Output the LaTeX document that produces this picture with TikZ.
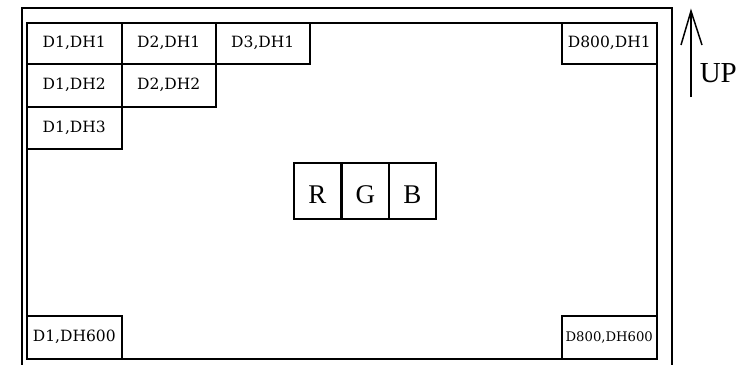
\documentclass[tikz,border=0pt]{standalone}
\usepackage{fontspec}
\newfontfamily\labfont{DejaVu Serif}
\newfontfamily\bigserif{Liberation Serif}
\begin{document}
\begin{tikzpicture}[x=1pt,y=-1pt,line width=1.5pt,
  cell/.style={draw,rectangle,inner sep=0pt,anchor=north west,
    minimum height=41pt,font=\labfont\fontsize{15.5}{18}\selectfont},
  rgbbox/.style={draw,rectangle,inner sep=0pt,anchor=north west,
    minimum width=47pt,minimum height=56pt},
  bigtext/.style={inner sep=0pt,font=\bigserif\fontsize{27}{30}\selectfont}]
\useasboundingbox (0,0) rectangle (741,364);
\begin{scope}
  \clip (0,0) rectangle (741,364);
  \draw (22,8) rectangle (672,380);
\end{scope}
\node[draw,rectangle,inner sep=0pt,anchor=north west,minimum width=630pt,minimum height=336pt] (frame) at (26,22) {};
% cells
\node[cell,minimum width=95pt] (c11) at (26,22) {D1,DH1};
\node[cell,minimum width=94pt] (c21) at (121,22) {D2,DH1};
\node[cell,minimum width=94pt] (c31) at (215,22) {\raisebox{2pt}{D3,DH1}};
\node[cell,minimum width=95pt,minimum height=43pt] (c12) at (26,63) {D1,DH2};
\node[cell,minimum width=94pt,minimum height=43pt] (c22) at (121,63) {\raisebox{2pt}{D2,DH2}};
\node[cell,minimum width=95pt,minimum height=42pt] (c13) at (26,106) {D1,DH3};
\node[cell,minimum width=95pt] (c8001) at (561,22) {D800,DH1};
\node[cell,minimum width=95pt,minimum height=43pt] (c1600) at (26,315) {\raisebox{-3pt}{D1,DH600}};
\node[cell,minimum width=95pt,minimum height=43pt,font=\labfont\fontsize{13.2}{16}\selectfont] (c800600) at (561,315) {\raisebox{-2pt}{D800,DH600}};
% RGB
\node[rgbbox] (rb) at (293,162) {};
\node[rgbbox] (gb) at (341,162) {};
\node[rgbbox] (bb) at (388,162) {};
\node[bigtext] (rt) at ([yshift=-4pt]rb.center) {R};
\node[bigtext] (gt) at ([yshift=-4pt]gb.center) {G};
\node[bigtext] (bt) at ([yshift=-4pt]bb.center) {B};
% UP arrow
\coordinate (tail) at (691,97);
\coordinate (tip) at (691,11);
\coordinate (wl) at (681,45);
\coordinate (wr) at (702,45);
\draw (tail) -- (tip);
\draw[line join=miter] (wl) -- (tip) -- (wr);
\node[bigtext,anchor=base west,font=\bigserif\fontsize{29}{32}\selectfont] (up) at (699,82) {UP};
\end{tikzpicture}
\end{document}
